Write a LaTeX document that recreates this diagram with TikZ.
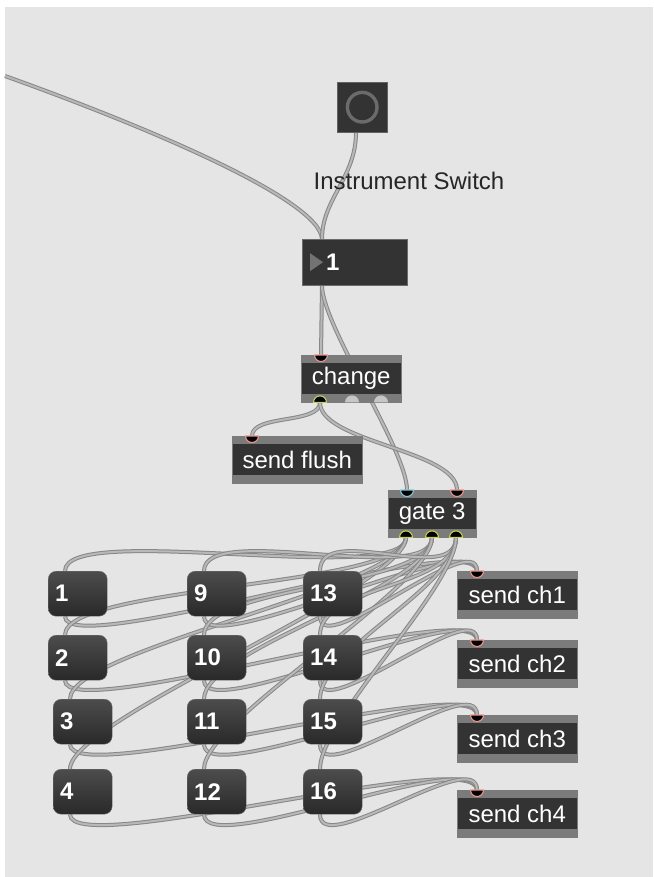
\documentclass[tikz,border=0pt]{standalone}
\usepackage{fontspec}
\setmainfont{Liberation Sans}
\usetikzlibrary{positioning,calc}

\definecolor{patchbg}{HTML}{E5E5E5}
\definecolor{boxbody}{HTML}{333333}
\definecolor{boxband}{HTML}{7B7B7B}
\definecolor{cordedge}{HTML}{878787}
\definecolor{cordfill}{HTML}{B8B8B8}
\definecolor{inletrim}{HTML}{E8968C}
\definecolor{coldrim}{HTML}{7FC8D8}
\definecolor{outletrim}{HTML}{C8CF50}
\definecolor{idleport}{HTML}{C6C6C6}

\pgfdeclarelayer{backdrop}
\pgfdeclarelayer{cords}
\pgfsetlayers{backdrop,cords,main}

\newcommand{\patchfont}{\fontsize{24}{28}\selectfont}

\tikzset{
  maxobj/.style={
    draw=boxband, fill=boxbody, text=white, anchor=north west,
    minimum height=47pt, inner sep=0pt, font=\patchfont,
    path picture={
      \fill[boxband] (path picture bounding box.north west)
        rectangle ([yshift=-8pt]path picture bounding box.north east);
      \fill[boxband] (path picture bounding box.south west)
        rectangle ([yshift=8pt]path picture bounding box.south east);
    }},
  msgbox/.style={
    rounded corners=8pt, draw=black!55, top color=black!70,
    bottom color=black!84, text=white, anchor=north west,
    minimum height=45pt, text width=45pt, align=left,
    inner xsep=7pt, inner ysep=0pt, font=\patchfont\bfseries},
  cord/.style={
    draw=cordedge, line width=1pt,
    double=cordfill, double distance=2pt}
}

\begin{document}
\begin{tikzpicture}[x=1pt,y=-1pt]
\useasboundingbox (0,0) rectangle (653,877);

% Patcher background.
\begin{pgfonlayer}{backdrop}
  \fill[patchbg] (5,7) rectangle (653,877);
\end{pgfonlayer}

% #1 = point on the box edge, #2 = rim colour
\newcommand{\portin}[2]{%
  \filldraw[draw=#2,fill=black,line width=1.1pt]
    ($#1+(-6.5,0)$) arc[start angle=180,end angle=360,radius=6.5pt] -- cycle;}
\newcommand{\portout}[2]{%
  \filldraw[draw=#2,fill=black,line width=1.1pt]
    ($#1+(-6.5,0)$) arc[start angle=180,end angle=0,radius=6.5pt] -- cycle;}
\newcommand{\portidle}[1]{%
  \fill[idleport]
    ($#1+(-7,0)$) arc[start angle=180,end angle=0,radius=7pt] -- cycle;}

% Bang button and comment.
\node[draw=black!62, fill=boxbody, minimum size=50pt, inner sep=0pt,
  anchor=north west] (bang) at (337,82) {};
\draw[black!58, line width=3.4pt] (bang.center) circle (14.8pt);
\node[text=black!85, font=\patchfont] (label) at (409,181) {Instrument Switch};

% Number box.
\node[draw=black!58, fill=boxbody, minimum width=105pt, minimum height=46pt,
  inner sep=0pt, anchor=north west] (num) at (302,239) {};
\fill[black!55] ($(num.west)+(8,-9)$) -- ($(num.west)+(8,9)$)
  -- ($(num.west)+(21,0)$) -- cycle;
\node[text=white, font=\patchfont\bfseries, anchor=west, inner sep=0pt]
  (numval) at ($(num.west)+(24,0)$) {1};

% Objects.
\node[maxobj, minimum width=100pt] (chg) at (301,355) {change};
\node[maxobj, minimum width=130pt] (flush) at (232,436) {send flush};
\node[maxobj, minimum width=88pt] (gate) at (388,490) {gate 3};
\foreach \k/\y in {1/571,2/640,3/715,4/790}
  \node[maxobj, minimum width=120pt] (ch\k) at (457,\y) {send ch\k};

% Message boxes.
\foreach \n/\x/\y in {1/48/571, 2/48/635, 3/53/699, 4/53/769,
                      9/187/571, 10/187/635, 11/187/699, 12/187/769,
                      13/303/571, 14/303/635, 15/303/699, 16/303/769}
  \node[msgbox] (m\n) at (\x,\y) {\n};

% Inlets and outlets.
\coordinate (offpage) at (5,76);
\coordinate (bang-out) at ($(bang.south west)+(19,0)$);
\coordinate (num-in) at ($(num.north west)+(20,0)$);
\coordinate (num-out) at ($(num.south west)+(20,0)$);
\coordinate (chg-in) at ($(chg.north west)+(20,0)$);
\coordinate (chg-out1) at ($(chg.south west)+(19,0)$);
\coordinate (chg-out2) at ($(chg.south west)+(51,0)$);
\coordinate (chg-out3) at ($(chg.south west)+(80,0)$);
\coordinate (flush-in) at ($(flush.north west)+(20,0)$);
\coordinate (gate-in1) at ($(gate.north west)+(19,0)$);
\coordinate (gate-in2) at ($(gate.north west)+(69,0)$);
\foreach \g/\dx in {1/18,2/44,3/68}
  \coordinate (gate-out\g) at ($(gate.south west)+(\dx,0)$);
\foreach \k in {1,...,4}
  \coordinate (ch\k-in) at ($(ch\k.north west)+(20,0)$);
\foreach \n in {1,2,3,4,9,10,11,12,13,14,15,16}{
  \coordinate (m\n-in) at ($(m\n.north west)+(17,0)$);
  \coordinate (m\n-out) at ($(m\n.south west)+(17,0)$);
}

% Patch cords, kept behind the boxes.
\begin{pgfonlayer}{cords}
  \draw[cord] (offpage) .. controls (150,128) and (320,200) .. (num-in);
  \draw[cord] (bang-out) .. controls +(0,45) and +(0,-40) .. (num-in);
  \draw[cord] (num-out) -- (chg-in);
  \draw[cord] (num-out) .. controls +(0,40) and +(0,-40) .. (gate-in1);
  \draw[cord] (chg-out1) .. controls +(0,22) and +(0,-22) .. (flush-in);
  \draw[cord] (chg-out1) .. controls +(0,40) and +(0,-40) .. (gate-in2);
  \foreach \n/\g/\s in {1/1/1, 2/1/2, 3/1/3, 4/1/4,
                        9/2/1, 10/2/2, 11/2/3, 12/2/4,
                        13/3/1, 14/3/2, 15/3/3, 16/3/4}{
    \draw[cord] (gate-out\g) .. controls +(0,50) and +(0,-50) .. (m\n-in);
    \draw[cord] (m\n-out) .. controls +(0,45) and +(0,-45) .. (ch\s-in);
  }
\end{pgfonlayer}

% Port markers on top of the boxes.
\portin{(chg-in)}{inletrim}
\portout{(chg-out1)}{outletrim}
\portidle{(chg-out2)}
\portidle{(chg-out3)}
\portin{(flush-in)}{inletrim}
\portin{(gate-in1)}{coldrim}
\portin{(gate-in2)}{inletrim}
\foreach \g in {1,2,3}{
  \portout{(gate-out\g)}{outletrim}
}
\foreach \k in {1,...,4}{
  \portin{(ch\k-in)}{inletrim}
}

\end{tikzpicture}
\end{document}
